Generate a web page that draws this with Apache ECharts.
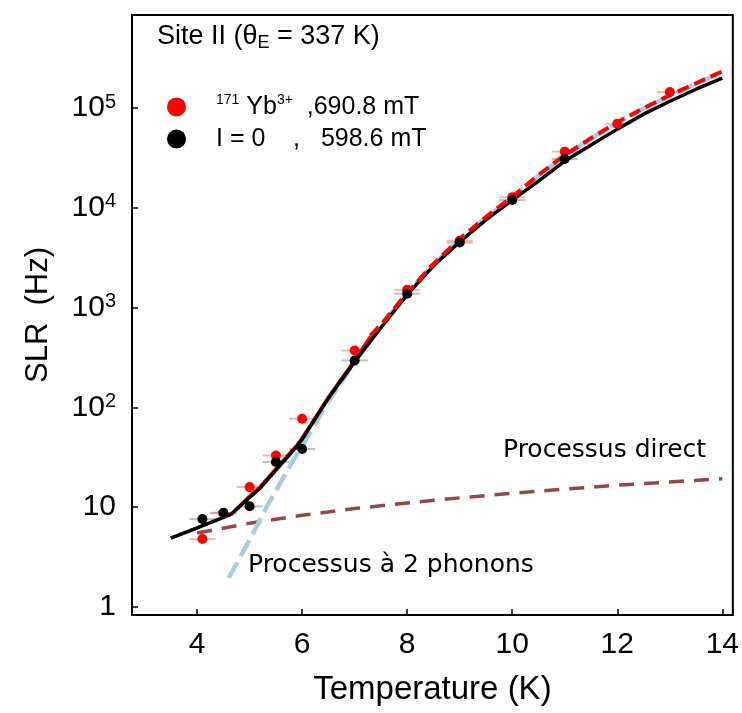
<!DOCTYPE html>
<html>
<head>
<meta charset="utf-8">
<script src="https://cdn.jsdelivr.net/npm/echarts@6/dist/echarts.min.js"></script>
<style>
  html, body { margin: 0; padding: 0; background: #fff; }
  #main { width: 742px; height: 713px; }
</style>
</head>
<body>
<div id="main"></div>
<script>
// measured points (temperature in K, SLR in Hz)
const tempRed = [4.1, 4.5, 5.0, 5.5, 6.0, 7.0, 8.0, 9.0, 10.0, 11.0, 12.0, 13.0]
const slrRed = [4.8, 8.7, 15.9, 33, 77, 372, 1510, 4700, 12800, 36700, 70000, 145000]
const tempBlack = [4.1, 4.5, 5.0, 5.5, 6.0, 7.0, 8.0, 9.0, 10.0, 11.0]
const slrBlack = [7.6, 8.8, 10.2, 28.4, 38.3, 296, 1380, 4500, 12000, 31000]
const tempErr = 0.25

// fitted curves
const fitT = [3.5, 4.0, 4.5, 4.65, 5.0, 5.2, 5.5, 5.9, 6.0, 6.5, 7.0, 7.5, 8.0, 8.5, 9.0, 9.5, 10, 10.5, 11, 11.5, 12, 12.5, 13, 13.5, 14]
const fitBlack = [4.9, 6.2, 7.9, 8.5, 12.5, 15.5, 23.5, 40.7, 48, 124, 288, 630, 1350, 2630, 4570, 7590, 12000, 18600, 29500, 42700, 61700, 87100, 117500, 155000, 200000]
const redLowT = [3.5, 4.0, 4.5, 4.65, 5.0, 5.2, 5.5, 5.9, 6.0, 6.5, 7.0, 7.3]
const redLow = [4.9, 6.2, 7.9, 8.6, 13, 16.2, 24.5, 42, 50, 128, 300, 520]
const redHighT = [7.3, 7.5, 8, 8.5, 9, 9.5, 10, 10.5, 11, 11.5, 12, 12.5, 13, 13.5, 14]
const redHigh = [525, 676, 1410, 2750, 4900, 8130, 12900, 21400, 33900, 50100, 72400, 100000, 135000, 178000, 234000]
const ramanT = [4.6, 5.0, 5.33, 5.8, 6.0, 6.5, 7.0, 7.5, 8, 8.5, 9, 9.5, 10, 10.5, 11, 11.5, 12, 12.5, 13, 13.5, 14]
const raman = [1.95, 4.7, 10.2, 27.7, 41, 115, 285, 660, 1400, 2720, 4850, 8000, 12800, 21000, 33500, 49500, 71500, 99000, 133000, 176000, 230000]
const directT = [4, 5, 6, 7, 8, 9, 10, 11, 12, 13, 14]
const direct = [5.5, 6.9, 8.3, 9.7, 11.0, 12.4, 13.8, 15.2, 16.6, 17.9, 19.3]

const pairs = (xs, ys) => xs.map((x, i) => [x, ys[i]])

const chart = echarts.init(document.getElementById('main'))

function errBars(xs, ys, color) {
  return {
    type: 'custom',
    z: 1,
    silent: true,
    data: pairs(xs, ys),
    renderItem: (params, api) => {
      const a = api.coord([api.value(0) - tempErr, api.value(1)])
      const b = api.coord([api.value(0) + tempErr, api.value(1)])
      return {
        type: 'line',
        shape: { x1: a[0], y1: a[1], x2: b[0], y2: b[1] },
        style: { stroke: color, lineWidth: 2 }
      }
    }
  }
}

function curve(xs, ys, color, width, type, z) {
  return {
    type: 'line',
    data: pairs(xs, ys),
    showSymbol: false,
    symbol: 'none',
    z: z,
    lineStyle: { color: color, width: width, type: type },
    silent: true
  }
}

chart.setOption({
  animation: false,
  grid: { left: 132, right: 9, top: 15, bottom: 98, show: true, borderColor: '#000', borderWidth: 2 },
  legend: {
    left: 162,
    top: 88,
    orient: 'vertical',
    itemWidth: 19,
    itemHeight: 19,
    itemGap: 7,
    data: [{ name: 'Yb', icon: 'circle' }, { name: 'I0', icon: 'circle' }],
    formatter: name => name === 'Yb'
      ? '{g| }{sup|171}{m| Yb}{sup|3+}{m|  ,690.8 mT}'
      : '{g| }{m|I = 0    ,   598.6 mT}',
    textStyle: {
      rich: {
        g: { width: 25 },
        m: { fontFamily: 'Liberation Sans', fontSize: 25, color: '#000', lineHeight: 28 },
        sup: { fontFamily: 'Liberation Sans', fontSize: 14, color: '#000', verticalAlign: 'top', lineHeight: 28 }
      }
    }
  },
  xAxis: {
    type: 'value',
    min: 2.76,
    max: 14.2,
    splitNumber: 5,
    name: 'Temperature (K)',
    nameLocation: 'middle',
    nameGap: 58,
    nameTextStyle: { fontFamily: 'Liberation Sans', fontSize: 33, color: '#000' },
    axisLine: { lineStyle: { color: '#000', width: 2 } },
    axisTick: { inside: true, length: 6, lineStyle: { color: '#000', width: 1.5 } },
    axisLabel: {
      margin: 15,
      fontFamily: 'Liberation Sans', fontSize: 30, color: '#000',
      formatter: v => (Math.abs(v - Math.round(v)) < 1e-6 ? String(Math.round(v)) : '')
    },
    splitLine: { show: false }
  },
  yAxis: {
    type: 'log',
    logBase: 10,
    min: 0.83,
    max: 860000,
    name: 'SLR  (Hz)',
    nameLocation: 'middle',
    nameGap: 78,
    nameTextStyle: { fontFamily: 'Liberation Sans', fontSize: 31, color: '#000' },
    axisLine: { lineStyle: { color: '#000', width: 2 } },
    axisTick: { inside: true, length: 6, lineStyle: { color: '#000', width: 1.5 } },
    minorTick: { show: false },
    splitLine: { show: false },
    axisLabel: {
      margin: 16,
      formatter: v => {
        const e = Math.log10(v)
        if (Math.abs(e - Math.round(e)) > 1e-6) return ''
        const n = Math.round(e)
        if (n === 0) return '{b|1}'
        if (n === 1) return '{b|10}'
        return '{b|10}{s|' + n + '}'
      },
      rich: {
        b: { fontFamily: 'Liberation Sans', fontSize: 30, color: '#000', lineHeight: 32 },
        s: { fontFamily: 'Liberation Sans', fontSize: 20, color: '#000', verticalAlign: 'top', lineHeight: 32 }
      }
    }
  },
  graphic: [
    {
      type: 'text', left: 157, top: 23,
      style: {
        text: '{m|Site II (θ}{sub|E}{m| = 337 K)}',
        rich: {
          m: { fontFamily: 'Liberation Sans', fontSize: 27, fill: '#000', lineHeight: 32 },
          sub: { fontFamily: 'Liberation Sans', fontSize: 18, fill: '#000', verticalAlign: 'bottom', lineHeight: 32 }
        }
      }
    },
    {
      type: 'text', left: 503, top: 438,
      style: { text: 'Processus direct', fontFamily: 'DejaVu Sans', fontSize: 25, fill: '#000' }
    },
    {
      type: 'text', left: 248, top: 553,
      style: { text: 'Processus à 2 phonons', fontFamily: 'DejaVu Sans', fontSize: 25, fill: '#000' }
    }
  ],
  series: [
    errBars(tempRed, slrRed, 'rgba(240,120,120,0.55)'),
    errBars(tempBlack, slrBlack, 'rgba(150,150,150,0.6)'),
    curve(directT, direct, '#94484a', 3.5, [15, 10], 3),
    curve(ramanT, raman, '#a9cbe0', 4.5, [18, 7], 3),
    curve(redLowT, redLow, '#ff0000', 3, 'solid', 4),
    curve(fitT, fitBlack, '#000000', 3.5, 'solid', 5),
    curve(redHighT, redHigh, '#ff0000', 4, [12, 6], 6),
    {
      name: 'Yb',
      type: 'scatter',
      z: 7,
      symbol: 'circle',
      symbolSize: 10,
      itemStyle: { color: '#ff0000', opacity: 1 },
      data: pairs(tempRed, slrRed)
    },
    {
      name: 'I0',
      type: 'scatter',
      z: 7,
      symbol: 'circle',
      symbolSize: 10,
      itemStyle: { color: '#000000', opacity: 1 },
      data: pairs(tempBlack, slrBlack)
    }
  ]
})
</script>
</body>
</html>
